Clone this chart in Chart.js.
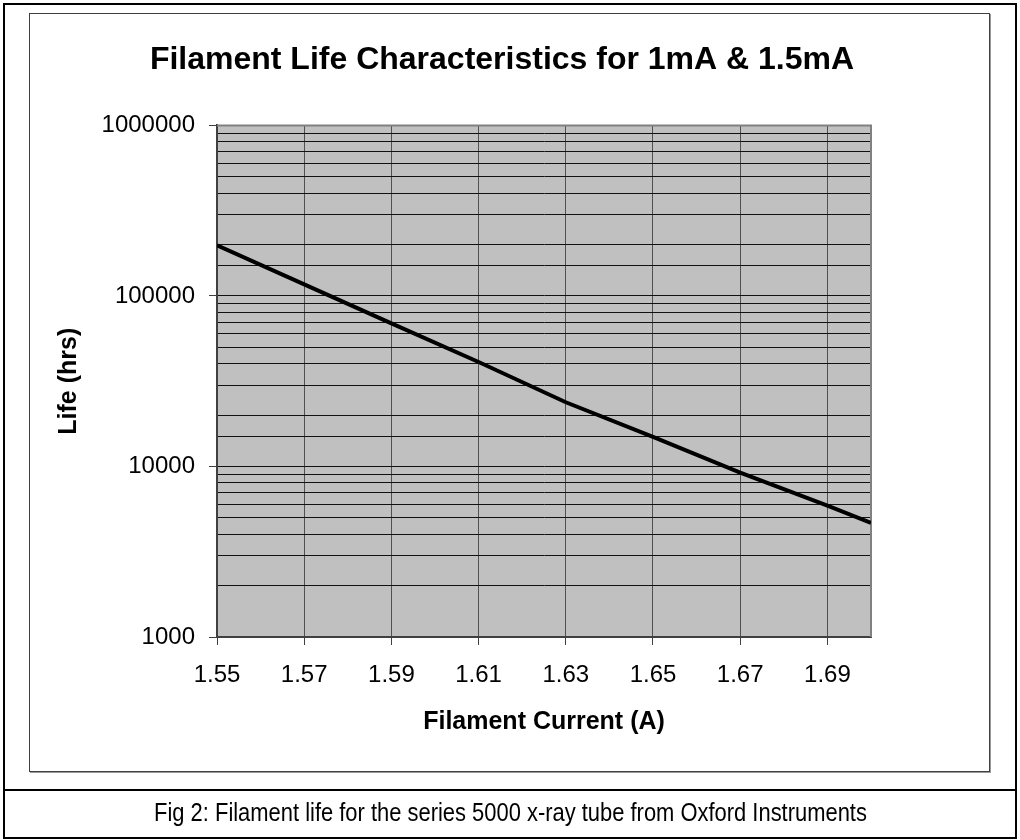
<!DOCTYPE html>
<html>
<head>
<meta charset="utf-8">
<script src="https://cdn.jsdelivr.net/npm/chart.js@4/dist/chart.umd.min.js"></script>
<style>
  body { margin: 0; background: #fff; font-family: 'Liberation Sans', Arial, sans-serif; }
  #page { position: relative; width: 1020px; height: 840px; overflow: hidden; }
  .outer { position: absolute; left: 3px; top: 3px; width: 1014px; height: 836px; box-sizing: border-box; border: 2px solid #000; }
  .sep { position: absolute; left: 3px; top: 789px; width: 1014px; height: 2px; background: #000; }
  .frame { position: absolute; left: 29px; top: 13px; width: 961px; height: 759px; box-sizing: border-box; border: 1px solid #404040; box-shadow: 1px 1px 0 #9a9a9a; }
  #chart { position: absolute; left: 0; top: 0; }
  .caption { position: absolute; left: 0; width: 1020px; top: 798px; text-align: center; font-size: 25px; line-height: 29px; color: #000; transform: scaleX(0.877); transform-origin: 514px 0; }
</style>
</head>
<body>
<div id="page">
  <div class="outer"></div>
  <div class="frame"></div>
  <div class="sep"></div>
  <canvas id="chart" width="1020" height="840"></canvas>
  <div class="caption">Fig 2: Filament life for the series 5000 x-ray tube from Oxford Instruments</div>
</div>
<script>
const currents = [1.55, 1.57, 1.59, 1.61, 1.63, 1.65, 1.67, 1.69, 1.70];
const lifeHours = [198000, 117000, 69000, 41000, 23800, 14900, 9200, 5900, 4670];
const xTickValues = [1.55, 1.57, 1.59, 1.61, 1.63, 1.65, 1.67, 1.69];
const yLabelValues = [1000, 10000, 100000, 1000000];

Chart.defaults.font.family = "'Liberation Sans', Arial, sans-serif";
Chart.defaults.color = '#000';

// grey plot background and the light top/right frame of the plot
const plotFrame = {
    id: 'plotFrame',
    beforeDraw(chart) {
        const a = chart.chartArea;
        const ctx = chart.ctx;
        ctx.save();
        ctx.fillStyle = '#c0c0c0';
        ctx.fillRect(a.left, a.top, a.right - a.left, a.bottom - a.top);
        ctx.restore();
    },
    beforeDatasetsDraw(chart) {
        const a = chart.chartArea;
        const ctx = chart.ctx;
        ctx.save();
        ctx.strokeStyle = '#808080';
        ctx.lineWidth = 2;
        ctx.beginPath();
        ctx.moveTo(a.left, a.top);
        ctx.lineTo(a.right, a.top);
        ctx.lineTo(a.right, a.bottom);
        ctx.stroke();
        ctx.restore();
    }
};

const points = currents.map((c, i) => ({ x: c, y: lifeHours[i] }));

new Chart(document.getElementById('chart'), {
    type: 'line',
    data: {
        datasets: [{
            label: 'Life',
            data: points,
            borderColor: '#000',
            borderWidth: 4,
            pointRadius: 0,
            tension: 0,
            fill: false
        }]
    },
    options: {
        responsive: false,
        animation: false,
        devicePixelRatio: 1,
        layout: { padding: { left: 0, right: 16, top: 0, bottom: 100 } },
        plugins: {
            legend: { display: false },
            tooltip: { enabled: false },
            title: {
                display: true,
                text: 'Filament Life Characteristics for 1mA & 1.5mA',
                font: { size: 32, weight: 'bold' },
                color: '#000',
                padding: { top: 41, bottom: 46 }
            }
        },
        scales: {
            x: {
                type: 'linear',
                min: 1.55,
                max: 1.70,
                afterBuildTicks: scale => {
                    scale.ticks = xTickValues.map(v => ({ value: v }));
                },
                afterFit: scale => { scale.height = 103; },
                ticks: {
                    autoSkip: false,
                    maxRotation: 0,
                    padding: 16,
                    font: { size: 24 },
                    callback: v => v.toFixed(2)
                },
                grid: {
                    color: '#505050',
                    lineWidth: 1,
                    tickLength: 8,
                    tickColor: '#404040'
                },
                border: { color: '#404040', width: 2 },
                title: {
                    display: true,
                    text: 'Filament Current (A)',
                    font: { size: 25, weight: 'bold' },
                    padding: { top: 0, bottom: 3 }
                }
            },
            y: {
                type: 'logarithmic',
                min: 1000,
                max: 1000000,
                afterFit: scale => { scale.width = 217; },
                ticks: {
                    autoSkip: false,
                    padding: 14,
                    font: { size: 24 },
                    callback: v => yLabelValues.includes(v) ? String(v) : ''
                },
                grid: {
                    color: '#111',
                    lineWidth: 1,
                    tickLength: 8,
                    tickColor: ctx => yLabelValues.includes(ctx.tick.value) ? '#404040' : 'rgba(0,0,0,0)'
                },
                border: { color: '#404040', width: 2 },
                title: {
                    display: true,
                    text: 'Life (hrs)',
                    font: { size: 25, weight: 'bold' },
                    padding: { top: 54, bottom: 0 }
                }
            },
            y2: {
                position: 'right',
                display: true,
                afterFit: scale => { scale.width = 133; },
                ticks: { display: false },
                grid: { display: false, drawOnChartArea: false },
                border: { display: false }
            }
        }
    },
    plugins: [plotFrame]
});
</script>
</body>
</html>
